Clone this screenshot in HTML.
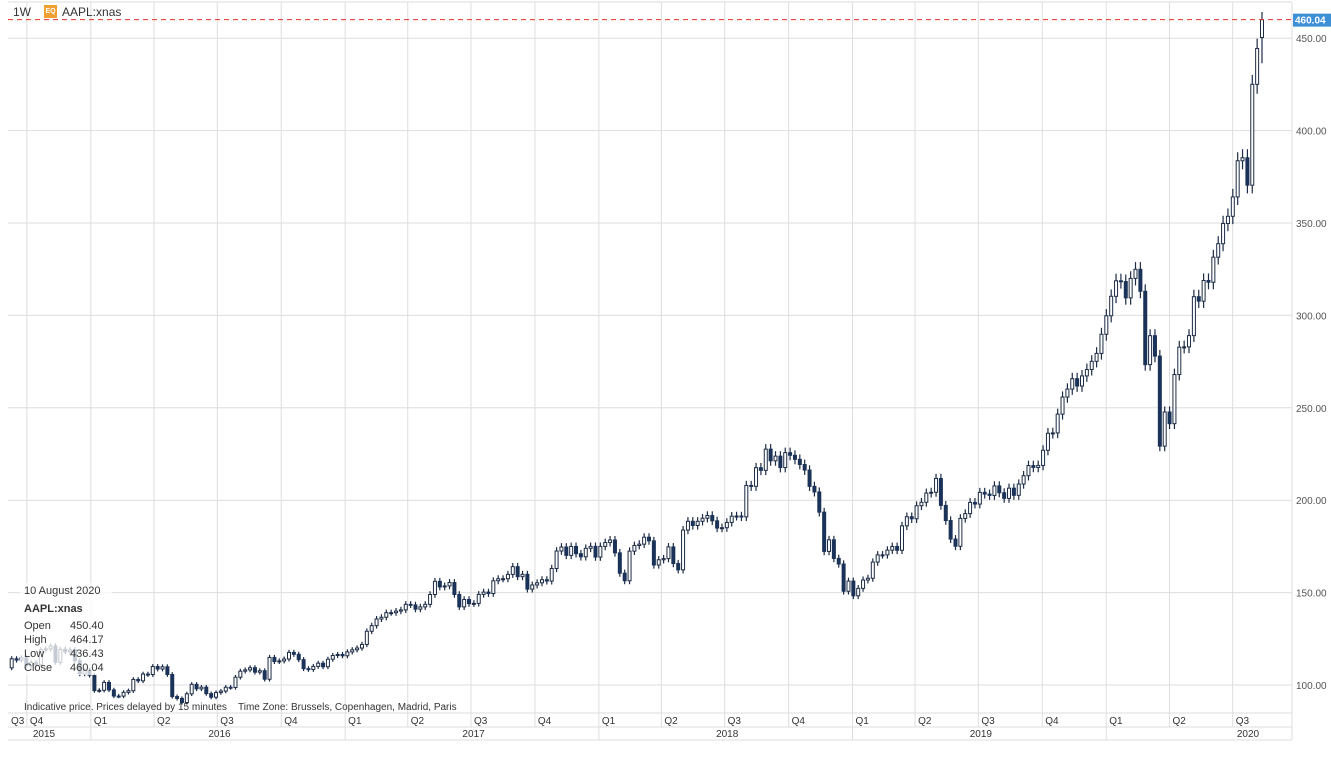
<!DOCTYPE html>
<html><head><meta charset="utf-8"><style>
body{margin:0;background:#fff;font-family:"Liberation Sans",sans-serif;}
svg text{font-family:"Liberation Sans",sans-serif;}
</style></head><body>
<svg id="chart" width="1331" height="752" xmlns="http://www.w3.org/2000/svg">
<rect x="0" y="0" width="1331" height="752" fill="#fff"/>
<g id="grid"></g>
<g id="candles"></g>
<g id="overlay"></g>
</svg>
<script>
const startDate = "2015-08-17";
const closes = [
105.8,113.3,109.3,114.2,113.5,114.7,110.4,112.1,111.0,119.1,119.5,121.1,112.3,119.3,118.0,119.0,113.2,106.0,108.0,105.3,
96.96,97.13,101.4,97.34,94.02,93.99,96.04,96.91,103.0,102.26,105.92,105.67,109.99,108.66,109.85,105.68,93.74,92.72,90.52,95.22,100.35,97.92,98.83,95.33,93.4,95.89,96.68,98.78,98.66,104.21,107.48,108.18,109.36,106.94,107.73,103.13,114.92,112.71,113.05,114.06,117.63,116.6,113.72,108.84,108.43,110.06,111.79,109.9,113.95,115.97,116.52,115.82,
117.91,119.04,120.0,121.95,129.08,132.12,135.72,136.66,139.14,139.14,139.99,140.64,143.66,143.34,141.05,142.27,143.65,148.96,156.1,153.06,153.61,155.45,148.98,142.27,146.28,144.02,144.18,149.04,150.27,149.5,156.39,157.48,157.5,159.86,164.05,158.63,159.88,151.89,154.12,155.3,156.99,156.25,163.05,172.5,174.67,170.15,174.97,171.05,169.37,173.97,175.01,169.23,
175.0,177.09,178.46,171.51,160.5,156.41,172.43,175.5,176.21,179.98,178.02,164.94,167.78,168.38,174.73,165.72,162.32,183.83,188.59,186.31,188.58,190.24,191.7,188.84,184.92,185.11,187.97,191.33,191.44,190.98,207.99,207.53,217.58,216.16,227.63,221.3,223.84,217.66,225.74,224.29,222.11,219.31,216.3,207.48,204.47,193.53,172.29,178.58,168.49,165.48,150.73,156.23,148.26,
152.29,156.82,157.76,166.52,170.41,170.42,172.97,174.97,172.91,186.12,191.05,189.95,197.0,198.87,203.86,204.3,211.75,197.18,189.0,178.97,175.07,190.15,192.74,198.78,197.92,204.23,203.3,202.59,207.74,204.02,200.99,206.5,202.64,208.74,213.26,218.75,217.73,218.82,227.01,236.21,236.41,246.58,255.82,260.14,265.76,261.78,267.25,270.71,275.15,279.44,289.8,299.8,
310.33,318.73,318.31,309.51,320.03,324.95,313.05,273.36,289.03,277.97,229.24,247.74,241.41,267.99,282.8,282.97,289.07,310.13,307.71,318.89,317.94,331.5,338.8,349.72,353.63,364.11,383.68,385.31,370.46,425.04,444.45,460.04
];
const yTicks = [100,150,200,250,300,350,400,450];
const quarterLabels = ["Q3","Q4","Q1","Q2","Q3","Q4","Q1","Q2","Q3","Q4","Q1","Q2","Q3","Q4","Q1","Q2","Q3","Q4","Q1","Q2","Q3"];
const quarterDates = ["2015-07-01","2015-10-01","2016-01-01","2016-04-01","2016-07-01","2016-10-01","2017-01-01","2017-04-01","2017-07-01","2017-10-01","2018-01-01","2018-04-01","2018-07-01","2018-10-01","2019-01-01","2019-04-01","2019-07-01","2019-10-01","2020-01-01","2020-04-01","2020-07-01"];
const yearLabels = ["2015","2016","2017","2018","2019","2020"];
const lastClose = 460.04;
const lastOpen = 450.40, lastHigh = 464.17, lastLow = 436.43;

const NS="http://www.w3.org/2000/svg";
const plotL=8, plotR=1292, plotT=2, plotB=713;
const step=4.865, lastX=1262;
const t0=Date.parse(startDate);
const tLast=t0+(closes.length-1)*7*864e5;
function xDate(ms){return lastX-(tLast-ms)/(7*864e5)*step;}
function xIdx(i){return lastX-(closes.length-1-i)*step;}
function y(p){return 685-(p-100)*1.848;}
function mk(tag,attrs,parent){const e=document.createElementNS(NS,tag);for(const k in attrs)e.setAttribute(k,attrs[k]);parent.appendChild(e);return e;}
const grid=document.getElementById('grid'),cg=document.getElementById('candles'),ov=document.getElementById('overlay');

let b=mk('line',{x1:plotL,x2:plotR,y1:plotT,y2:plotT,stroke:'#ddd'},grid);


b=mk('line',{x1:plotR,x2:plotR,y1:plotT,y2:740,stroke:'#ddd'},grid);


[713,727,740].forEach(yy=>{const l=mk('line',{x1:plotL,x2:plotR,y1:yy,y2:yy,stroke:'#ddd'},grid);

});

yTicks.forEach(v=>{
  const l=mk('line',{x1:plotL,x2:plotR,y1:y(v),y2:y(v),stroke:'#dedede'},grid);
  
  
  const t=mk('text',{x:1296,y:y(v)+4,'font-size':10,fill:'#555'},grid);
  t.textContent=v.toFixed(2);
  
  
});

quarterDates.forEach((d,i)=>{
  const x=xDate(Date.parse(d))-1.5;
  if(x>=plotL){
    const isYear=d.endsWith('01-01');
    const l=mk('line',{x1:x,x2:x,y1:plotT,y2:isYear?740:727,stroke:'#dedede'},grid);
    
    
  }
  const t=mk('text',{x:Math.max(x,8)+3,y:724,'font-size':10,fill:'#333'},grid);
  t.textContent=quarterLabels[i];
  
  
});
yearLabels.forEach((yr,i)=>{
  const a=Math.max(plotL,xDate(Date.parse(yr+'-01-01')));
  const bEnd=Math.min(plotR,xDate(Date.parse((+yr+1)+'-01-01')));
  const cx=yr==='2015'?44:(yr==='2020'?1248:(a+bEnd)/2);
  const t=mk('text',{x:cx,y:737,'font-size':10,fill:'#333','text-anchor':'middle'},grid);
  t.textContent=yr;
  
  
});

closes.forEach((c,i)=>{
  const o = i===closes.length-1 ? lastOpen : (i===0 ? 112 : closes[i-1]);
  const hi = i===closes.length-1 ? lastHigh : Math.max(o,c)*1.012;
  const lo = i===closes.length-1 ? lastLow : Math.min(o,c)*0.988;
  const x=xIdx(i);
  if(x<plotL) return;
  const g=mk('g',{},cg);
  
  
  mk('line',{x1:x,x2:x,y1:y(hi),y2:y(lo),stroke:'#1c2b45','stroke-width':1.2},g);
  const top=y(Math.max(o,c)),h=Math.max(1,y(Math.min(o,c))-top);
  const down=c<o;
  mk('rect',{x:x-1.5,y:top,width:3,height:h,fill:down?'#1b3358':'#fff',stroke:down?'#1b3358':'#1c2b45','stroke-width':1},g);
});

let rl=mk('line',{x1:plotL,x2:plotR,y1:y(lastClose),y2:y(lastClose),stroke:'#e8302a','stroke-dasharray':'5,4','stroke-width':1},ov);


let pb=mk('rect',{x:1293,y:y(lastClose)-6,width:38,height:13,fill:'#3d8fd6'},ov);


let pt=mk('text',{x:1295,y:y(lastClose)+4,'font-size':10,fill:'#fff','font-weight':'bold'},ov);
pt.textContent=lastClose.toFixed(2);


</script>
<div style="position:absolute;left:0;top:0;height:24px;font-size:12px;color:#333;">
  <span style="position:absolute;left:13px;top:5px;">1W</span>
  <span style="position:absolute;left:44px;top:5px;width:13px;height:13px;background:#f0a030;color:#fff;font-size:7px;line-height:13px;text-align:center;font-weight:bold;">EQ</span>
  <span style="position:absolute;left:62px;top:5px;white-space:nowrap;">AAPL:xnas</span>
</div>
<div style="position:absolute;left:20px;top:583px;width:92px;height:92px;background:rgba(255,255,255,0.75);font-size:11px;color:#333;">
  <div style="position:absolute;left:4px;top:2px;white-space:nowrap;">10 August 2020</div>
  <div style="position:absolute;left:4px;top:20px;font-weight:bold;">AAPL:xnas</div>
  <div style="position:absolute;left:4px;top:37px;">Open</div><div style="position:absolute;left:50px;top:37px;">450.40</div>
  <div style="position:absolute;left:4px;top:51px;">High</div><div style="position:absolute;left:50px;top:51px;">464.17</div>
  <div style="position:absolute;left:4px;top:65px;">Low</div><div style="position:absolute;left:50px;top:65px;">436.43</div>
  <div style="position:absolute;left:4px;top:79px;">Close</div><div style="position:absolute;left:50px;top:79px;">460.04</div>
</div>
<div style="position:absolute;left:24px;top:702px;font-size:10px;color:#333;white-space:nowrap;">Indicative price. Prices delayed by 15 minutes&nbsp;&nbsp;&nbsp;&nbsp;Time Zone: Brussels, Copenhagen, Madrid, Paris</div>
</body></html>
